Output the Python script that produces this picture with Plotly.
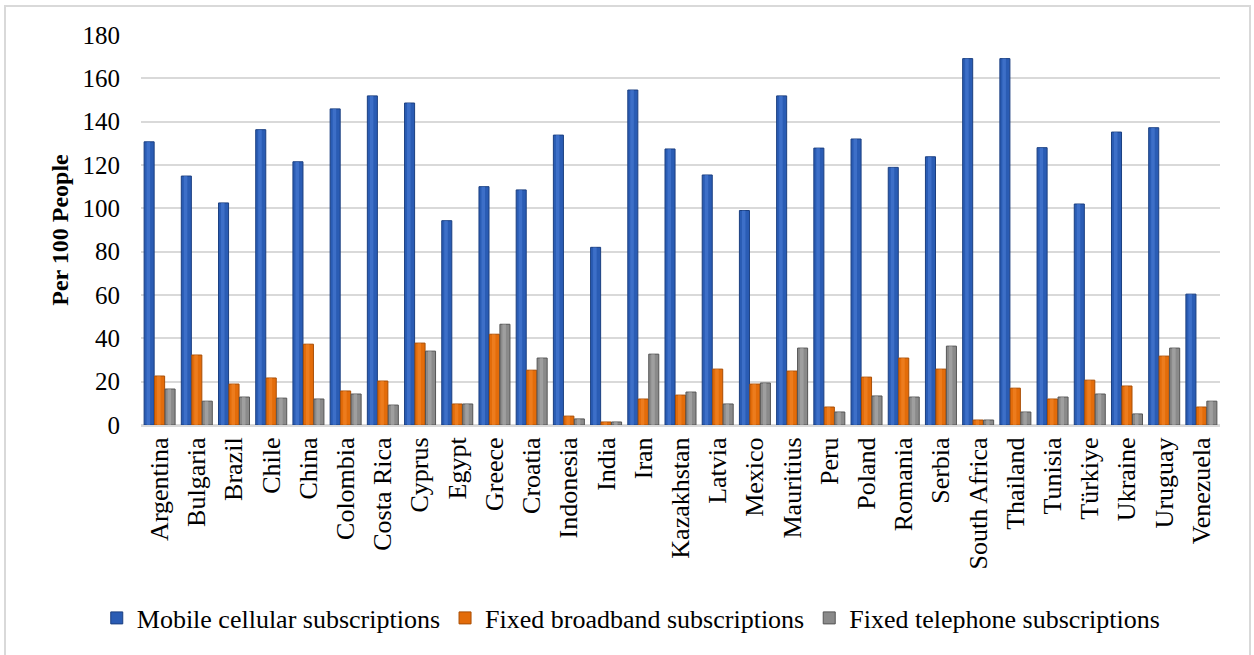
import plotly.graph_objects as go

countries = ["Argentina", "Bulgaria", "Brazil", "Chile", "China", "Colombia", "Costa Rica",
             "Cyprus", "Egypt", "Greece", "Croatia", "Indonesia", "India", "Iran",
             "Kazakhstan", "Latvia", "Mexico", "Mauritius", "Peru", "Poland", "Romania",
             "Serbia", "South Africa", "Thailand", "Tunisia", "Türkiye", "Ukraine",
             "Uruguay", "Venezuela"]

mobile = [130.7, 114.9, 102.5, 136.3, 121.5, 145.9, 151.9, 148.6, 94.3, 110.0, 108.5,
          133.8, 82.0, 154.6, 127.4, 115.4, 99.0, 151.9, 127.8, 132.0, 118.9, 123.8,
          169.1, 169.1, 128.0, 102.0, 135.2, 137.2, 60.4]

broadband = [22.6, 32.3, 18.9, 21.7, 37.3, 15.7, 20.3, 37.8, 9.7, 41.9, 25.3, 4.1, 1.4,
             12.0, 13.8, 25.8, 18.9, 24.9, 8.3, 22.1, 30.9, 25.8, 2.3, 17.0, 12.0, 20.7,
             18.0, 31.8, 8.3]

telephone = [16.6, 11.0, 12.9, 12.4, 12.0, 14.3, 9.2, 34.1, 9.7, 46.5, 30.9, 2.8, 1.4,
             32.7, 15.2, 9.7, 19.4, 35.5, 6.0, 13.4, 12.9, 36.4, 2.3, 6.0, 12.9, 14.3,
             5.1, 35.5, 11.0]

series_names = ["Mobile cellular subscriptions", "Fixed broadband subscriptions",
                "Fixed telephone subscriptions"]
y_ticks = [0, 20, 40, 60, 80, 100, 120, 140, 160, 180]

FONT = "Liberation Serif"

# fill, edge, highlight colours per series
styles = [
    ("#2a5cb4", "#1b3f80", "#4d80d8"),
    ("#e36c0a", "#a94e05", "#f58a2e"),
    ("#8a8a8a", "#555555", "#b0b0b0"),
]
bar_w = 0.27
offsets = [-0.4165, -0.135, 0.1465]

fig = go.Figure()
for name, vals, (fill, edge, hi), off in zip(series_names, [mobile, broadband, telephone],
                                              styles, offsets):
    fig.add_trace(go.Bar(
        x=countries, y=vals, name=name, width=bar_w, offset=off,
        marker=dict(color=fill, line=dict(color=edge, width=1)),
    ))
# lighter centre stripe to give the bars a rounded look
for vals, (fill, edge, hi), off in zip([mobile, broadband, telephone], styles, offsets):
    fig.add_trace(go.Bar(
        x=countries, y=vals, width=bar_w * 0.35, offset=off + bar_w * 0.25,
        marker=dict(color=hi, line=dict(width=0), opacity=0.55),
        showlegend=False, hoverinfo="skip",
    ))

W, H = 1254, 655
L, R, T, B = 141, 1220, 35, 425

def px_x(p):
    return (p - L) / (R - L)

def px_y(p):
    return (B - p) / (B - T)

fig.update_layout(
    width=W, height=H,
    margin=dict(l=L, r=W - R, t=T, b=H - B),
    barmode="overlay",
    paper_bgcolor="white", plot_bgcolor="white",
    font=dict(family=FONT, size=24, color="#000000"),
    showlegend=True,
    legend=dict(
        orientation="h", xref="container", yref="container",
        x=0.503, y=1 - 618 / H, xanchor="center", yanchor="middle",
        font=dict(family=FONT, size=26), itemwidth=30, tracegroupgap=0,
        bgcolor="rgba(0,0,0,0)",
    ),
    xaxis=dict(
        type="category", tickangle=-90, showgrid=False, ticks="",
        showline=True, linecolor="#d9d9d9", linewidth=2,
        tickfont=dict(family=FONT, size=26), automargin=False,
    ),
    yaxis=dict(
        range=[0, 180], tickvals=y_ticks, ticktext=[str(v) for v in y_ticks],
        showgrid=True, gridcolor="#d9d9d9", gridwidth=1.5,
        zeroline=True, zerolinecolor="#d9d9d9", zerolinewidth=2,
        ticks="", ticklabelstandoff=20,
        tickfont=dict(family=FONT, size=25), automargin=False,
        title=dict(text="<b>Per 100 People</b>", font=dict(family=FONT, size=24), standoff=7),
    ),
    shapes=[dict(
        type="rect", xref="paper", yref="paper",
        x0=px_x(5), x1=px_x(1250), y0=px_y(700), y1=px_y(6),
        line=dict(color="#d9d9d9", width=2), fillcolor="rgba(0,0,0,0)", layer="below",
    )],
)

fig.write_html("out.html")
